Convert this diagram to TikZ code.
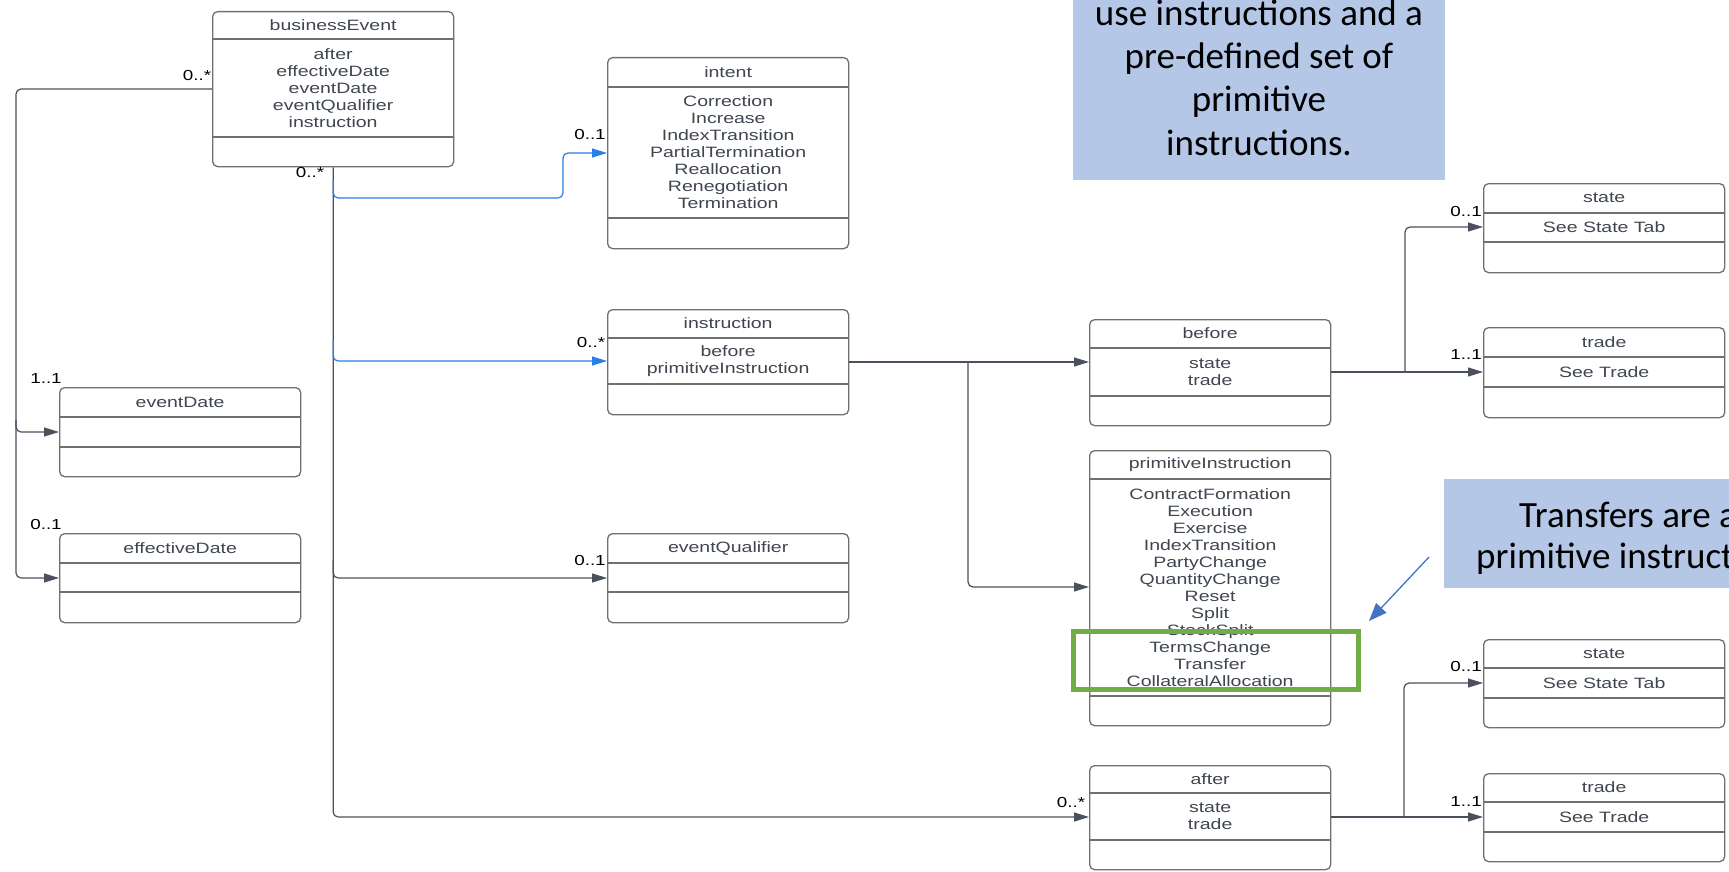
\documentclass[tikz,border=0pt]{standalone}
\usepackage{fontspec}
\newfontfamily\umlfont[FakeStretch=1.3]{Liberation Sans}
\newfontfamily\calfont{Carlito}
\usetikzlibrary{arrows.meta,calc}

\definecolor{umlgray}{HTML}{707070}
\definecolor{umltext}{HTML}{3F4650}
\definecolor{conngray}{HTML}{4A505C}
\definecolor{connblue}{HTML}{2B7DE9}
\definecolor{noteblue}{HTML}{B4C7E7}
\definecolor{markgreen}{HTML}{70AD47}
\definecolor{arrblue}{HTML}{4472C4}

\tikzset{
  umlbox/.style={draw=umlgray, line width=1.3pt, rounded corners=5pt, minimum width=241pt, inner sep=0pt},
  umlline/.style={draw=umlgray, line width=1.1pt},
  umltxt/.style={font=\umlfont\fontsize{15}{17}\selectfont, text=umltext, align=center, inner sep=0pt},
  mult/.style={font=\umlfont\fontsize{14.5}{17}\selectfont, text=black, inner sep=0pt},
  conn/.style={draw=conngray, line width=1.2pt, rounded corners=5pt, -{Triangle[length=15pt,width=9pt]}},
  bconn/.style={conn, draw=connblue},
  calltext/.style={font=\calfont\fontsize{37}{43}\selectfont, text=black, inner sep=0pt},
}

% class box: name, left, top, header line, divider, bottom, title, attributes
\newcommand{\umlclass}[8]{%
  \node[umlbox, minimum height={#6-#3}, anchor=north west] (#1) at (#2,#3) {};
  \draw[umlline] (#1.west |- 0,#4) -- (#1.east |- 0,#4);
  \draw[umlline] (#1.west |- 0,#5) -- (#1.east |- 0,#5);
  \node[umltxt] (#1-title) at ($(#1.north)!0.5!(#1.north |- 0,#4)$) {#7};
  \node[umltxt] (#1-attr) at ($(#1.north |- 0,#4)!0.5!(#1.north |- 0,#5)$) {#8};
}

\begin{document}
\begin{tikzpicture}[x=1pt,y=-1pt]
      \useasboundingbox (0,0) rectangle (1729,872);
      \clip (0,0) rectangle (1729,872);
      \fill[white] (0,0) rectangle (1729,872);

      %%% notes
      \node[fill=noteblue, minimum width=372pt, minimum height=200pt, anchor=south west, inner sep=0pt] (note1) at (1073,180) {};
      \foreach \t/\y [count=\i] in {use instructions and a/26, pre-defined set of/69, primitive/112, instructions./155}
        \node[calltext, anchor=base] (note1-\i) at (1259,\y) {\t};
      \node[fill=noteblue, minimum width=300pt, minimum height=109pt, anchor=north west, inner sep=0pt] (note2) at (1444,479) {};
      \node[calltext, anchor=base west] (note2-a) at (1519,527) {Transfers are a};
      \node[calltext, anchor=base west] (note2-b) at (1476,568) {primitive instruct};

      %%% classes
      \umlclass{be}{212}{11}{39}{137}{166}{businessEvent}{after\\effectiveDate\\eventDate\\eventQualifier\\instruction}
      \umlclass{intent}{607}{57}{87}{218}{248}{intent}{Correction\\Increase\\IndexTransition\\PartialTermination\\Reallocation\\Renegotiation\\Termination}
      \umlclass{instr}{607}{309}{338}{384}{414}{instruction}{before\\primitiveInstruction}
      \umlclass{evd}{59}{387}{417}{447}{476}{eventDate}{}
      \umlclass{efd}{59}{533}{563}{592}{622}{effectiveDate}{}
      \umlclass{evq}{607}{533}{563}{592}{622}{eventQualifier}{}
      \umlclass{bef}{1089}{319}{348}{396}{425}{before}{state\\trade}
      \umlclass{prim}{1089}{450}{479}{696}{725}{primitiveInstruction}{ContractFormation\\Execution\\Exercise\\IndexTransition\\PartyChange\\QuantityChange\\Reset\\Split\\StockSplit\\TermsChange\\Transfer\\CollateralAllocation}
      \umlclass{aft}{1089}{765}{793}{840}{869}{after}{state\\trade}
      \umlclass{st1}{1483}{183}{213}{242}{272}{state}{See State Tab}
      \umlclass{tr1}{1483}{327}{357}{387}{417}{trade}{See Trade}
      \umlclass{st2}{1483}{639}{668}{698}{727}{state}{See State Tab}
      \umlclass{tr2}{1483}{773}{802}{832}{861}{trade}{See Trade}

      %%% connectors
      % left side
      \coordinate (ltrunk) at (16,89);
      \coordinate (lsplit) at (16,420);
      \draw[conn] (be.west |- ltrunk) -- (ltrunk) |- (evd.west |- 0,432);
      \draw[conn] (lsplit) |- (efd.west |- 0,578);
      % trunk below businessEvent
      \draw[conn] (be.south) |- (aft.west |- 0,817);
      \draw[bconn] (be.south |- 0,180) |- (563,198) |- (intent.west |- 0,153);
      \draw[bconn] (be.south |- 0,340) |- (instr.west |- 0,361);
      \draw[conn] (be.south |- 0,560) |- (evq.west |- 0,578);
      % instruction
      \coordinate (isplit) at (968,362);
      \draw[conn] (instr.east |- isplit) -- (bef.west |- isplit);
      \draw[conn] (isplit) |- (prim.west |- 0,587);
      % before and after
      \coordinate (bsplit) at (1405,372);
      \draw[conn] (bef.east |- bsplit) -- (tr1.west |- bsplit);
      \draw[conn] (bsplit) |- (st1.west |- 0,227);
      \coordinate (asplit) at (1404,817);
      \draw[conn] (aft.east |- asplit) -- (tr2.west |- asplit);
      \draw[conn] (asplit) |- (st2.west |- 0,683);

      %%% multiplicities
      \node[mult] (m-be1) at (197,76) {0..*};
      \node[mult] (m-be2) at (310,173) {0..*};
      \node[mult] (m-int) at (590,135) {0..1};
      \node[mult] (m-ins) at (591,343) {0..*};
      \node[mult] (m-evd) at (46,379) {1..1};
      \node[mult] (m-efd) at (46,525) {0..1};
      \node[mult] (m-evq) at (590,561) {0..1};
      \node[mult] (m-aft) at (1071,802) {0..*};
      \node[mult] (m-st1) at (1466,212) {0..1};
      \node[mult] (m-tr1) at (1466,355) {1..1};
      \node[mult] (m-st2) at (1466,667) {0..1};
      \node[mult] (m-tr2) at (1466,802) {1..1};

      %%% highlight
      \node[draw=markgreen, line width=4.5pt, minimum width=285pt, minimum height=58pt, anchor=north west, inner sep=0pt] (mark) at (1071,629) {};
      \coordinate (pt1) at (1429,557);
      \coordinate (pt2) at (1369,621);
      \draw[arrblue, line width=1.3pt, -{Triangle[length=18pt,width=14pt]}] (pt1) -- (pt2);
\end{tikzpicture}
\end{document}
